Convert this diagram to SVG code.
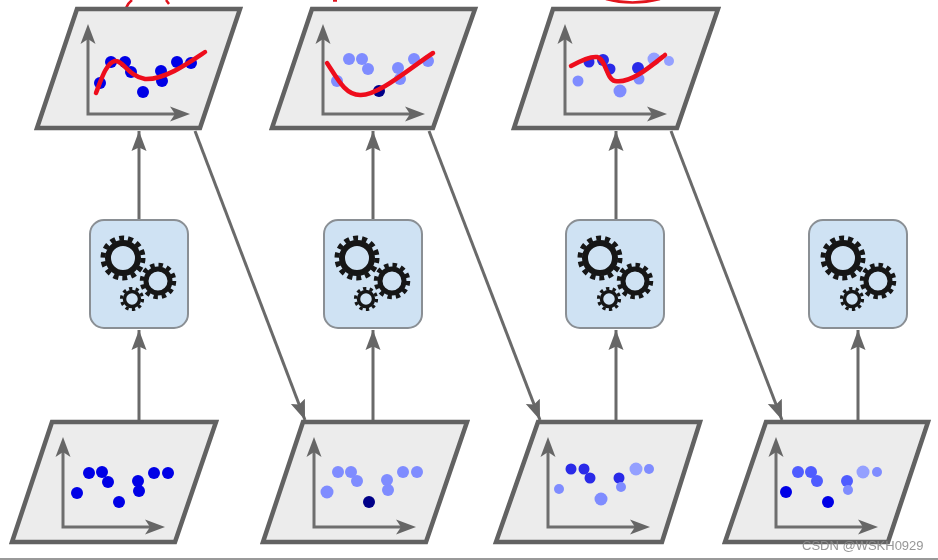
<svg xmlns="http://www.w3.org/2000/svg" xmlns:xlink="http://www.w3.org/1999/xlink" width="938" height="560" viewBox="0 0 938 560">
<style>
.panel{fill:#ececec;stroke:#626262;stroke-width:4.5;stroke-linejoin:miter}
.ax{fill:none;stroke:#6e6e6e;stroke-width:3}
.axh{fill:#666}
.box{fill:#cfe2f3;stroke:#8a8f94;stroke-width:2}
.con{fill:none;stroke:#6a6a6a;stroke-width:3;marker-end:url(#arr)}
.fit{fill:none;stroke:#ee0d1c;stroke-width:4.5;stroke-linecap:round;stroke-linejoin:round}
.note{fill:none;stroke:#e2121f;stroke-width:2.5}
.a{fill:#0000e6}.b{fill:#7f8cff}.c{fill:#000088}.d{fill:#2a2ae8}.e{fill:#4f5cff}.f{fill:#94a0ff}
.wm{font-family:"Liberation Sans",Arial,sans-serif;font-size:13px;fill:#8c8c8c;fill-opacity:.9}
</style>
<defs>
<filter id="soft" x="-2%" y="-2%" width="104%" height="104%"><feGaussianBlur stdDeviation="0.65"/></filter>
<marker id="arr" markerUnits="userSpaceOnUse" markerWidth="22" markerHeight="18" refX="20" refY="9" orient="auto"><path d="M0 1.5 L20 9 L0 16.5 L3.5 9Z" fill="#666"/></marker>
<g id="axes">
<path class="ax" d="M0 -84 V0 H92"/>
<path class="axh" d="M0 -90 L7.5 -70 L0 -75 L-7.5 -70Z"/>
<path class="axh" d="M102 0 L82 -7.5 L87 0 L82 7.5Z"/>
</g>
<g id="gears">
<circle cx="0" cy="0" r="15" fill="none" stroke="#161616" stroke-width="6"/>
<circle cx="0" cy="0" r="20" fill="none" stroke="#161616" stroke-width="5" stroke-dasharray="5 3.976"/>
<circle cx="35" cy="23" r="12" fill="none" stroke="#161616" stroke-width="5"/>
<circle cx="35" cy="23" r="16" fill="none" stroke="#161616" stroke-width="4.5" stroke-dasharray="4.4 3.98"/>
<circle cx="9" cy="41" r="7.5" fill="none" stroke="#161616" stroke-width="3.5"/>
<circle cx="9" cy="41" r="10.5" fill="none" stroke="#161616" stroke-width="3.2" stroke-dasharray="3.3 3.3"/>
</g>
</defs>
<rect width="938" height="560" fill="#fff"/>
<g filter="url(#soft)">
<g id="connectors">
<path class="con" d="M139 219V131"/>
<path class="con" d="M373 219V131"/>
<path class="con" d="M616 219V131"/>
<path class="con" d="M139 420V330"/>
<path class="con" d="M373 420V330"/>
<path class="con" d="M616 420V330"/>
<path class="con" d="M858 420V330"/>
<path class="con" d="M195 131L305 420"/>
<path class="con" d="M429 131L540 420"/>
<path class="con" d="M671 131L782 420"/>
</g>
<g id="annotations">
<path class="note" d="M126 8Q128 3 132 0"/>
<path class="note" d="M166 0L169 4"/>
<path class="note" d="M333 0.5H337"/>
<path class="note" d="M606 -1Q632 6 660 -1" stroke-width="3"/>
</g>
<g id="top-1">
<path class="panel" d="M77 9H240L200 128H37Z"/>
<use xlink:href="#axes" href="#axes" x="88" y="114"/>
<g class="a"><circle cx="100" cy="83" r="6"/><circle cx="111" cy="62" r="6"/><circle cx="125" cy="62" r="6"/><circle cx="131" cy="72" r="6"/><circle cx="143" cy="92" r="6"/><circle cx="161" cy="71" r="6"/><circle cx="162" cy="81" r="6"/><circle cx="177" cy="62" r="6"/><circle cx="191" cy="63" r="6"/></g>
<path class="fit" d="M96 93C101 80 106 63 115 61C123 60 128 76 145 79C165 80 190 62 205 52"/>
</g>
<g id="top-2">
<path class="panel" d="M312 9H475L433 128H272Z"/>
<use xlink:href="#axes" href="#axes" x="323" y="114"/>
<g class="b"><circle cx="337" cy="81" r="6"/><circle cx="349" cy="59" r="6"/><circle cx="362" cy="59" r="6"/><circle cx="368" cy="69" r="6"/><circle cx="398" cy="68" r="6"/><circle cx="400" cy="79" r="6"/><circle cx="414" cy="59" r="6"/><circle cx="428" cy="61" r="6"/></g>
<circle class="c" cx="379" cy="91" r="6"/>
<path class="fit" d="M327 63C337 78 345 95 360 95C378 96 410 68 433 53"/>
</g>
<g id="top-3">
<path class="panel" d="M553 9H718L677 128H514Z"/>
<use xlink:href="#axes" href="#axes" x="565" y="114"/>
<circle class="b" cx="578" cy="81" r="5.5"/><circle class="d" cx="589" cy="62" r="5.5"/><circle class="d" cx="603" cy="60" r="6"/><circle class="d" cx="610" cy="69" r="5.5"/><circle class="b" cx="620" cy="91" r="6.5"/><circle class="d" cx="638" cy="68" r="6"/><circle class="b" cx="639" cy="79" r="5.5"/><circle class="f" cx="654" cy="59" r="6.5"/><circle class="f" cx="669" cy="61" r="5"/>
<path class="fit" d="M571 66C580 61 590 56 597 57C606 59 606 79 615 81C630 84 650 67 665 55"/>
</g>
<g id="model-1"><rect class="box" x="90" y="220" width="98" height="108" rx="14"/><use xlink:href="#gears" href="#gears" x="123" y="258"/></g>
<g id="model-2"><rect class="box" x="324" y="220" width="98" height="108" rx="14"/><use xlink:href="#gears" href="#gears" x="357" y="258"/></g>
<g id="model-3"><rect class="box" x="566" y="220" width="98" height="108" rx="14"/><use xlink:href="#gears" href="#gears" x="600" y="258"/></g>
<g id="model-4"><rect class="box" x="809" y="220" width="98" height="108" rx="14"/><use xlink:href="#gears" href="#gears" x="843" y="258"/></g>
<g id="data-1">
<path class="panel" d="M52 422H216L175 542H12Z"/>
<use xlink:href="#axes" href="#axes" x="63" y="527"/>
<g class="a"><circle cx="77" cy="493" r="6"/><circle cx="89" cy="473" r="6"/><circle cx="102" cy="472" r="6"/><circle cx="108" cy="482" r="6"/><circle cx="119" cy="502" r="6"/><circle cx="138" cy="481" r="6"/><circle cx="139" cy="491" r="6"/><circle cx="154" cy="473" r="6"/><circle cx="168" cy="473" r="6"/></g>
</g>
<g id="data-2">
<path class="panel" d="M303 422H467L426 542H263Z"/>
<use xlink:href="#axes" href="#axes" x="314" y="527"/>
<g class="b"><circle cx="327" cy="492" r="6.5"/><circle cx="338" cy="472" r="6"/><circle cx="351" cy="472" r="6"/><circle cx="357" cy="481" r="6"/><circle cx="387" cy="480" r="6"/><circle cx="388" cy="490" r="6"/><circle cx="403" cy="472" r="6"/><circle cx="417" cy="472" r="6"/></g>
<circle class="c" cx="369" cy="502" r="6"/>
</g>
<g id="data-3">
<path class="panel" d="M538 422H700L662 542H496Z"/>
<use xlink:href="#axes" href="#axes" x="548" y="527"/>
<circle class="b" cx="559" cy="489" r="5"/><circle class="d" cx="571" cy="469" r="5.5"/><circle class="d" cx="584" cy="469" r="5.5"/><circle class="d" cx="590" cy="478" r="5.5"/><circle class="b" cx="601" cy="499" r="6.5"/><circle class="d" cx="619" cy="478" r="5.5"/><circle class="b" cx="621" cy="487" r="5"/><circle class="f" cx="636" cy="469" r="6.5"/><circle class="b" cx="649" cy="469" r="5"/>
</g>
<g id="data-4">
<path class="panel" d="M766 422H928L888 542H725Z"/>
<use xlink:href="#axes" href="#axes" x="776" y="527"/>
<circle class="a" cx="786" cy="492" r="6"/><circle class="e" cx="798" cy="472" r="6"/><circle class="e" cx="811" cy="472" r="6"/><circle class="e" cx="817" cy="481" r="6"/><circle class="a" cx="828" cy="502" r="6"/><circle class="e" cx="847" cy="481" r="6"/><circle class="b" cx="848" cy="490" r="5"/><circle class="f" cx="863" cy="472" r="6.5"/><circle class="b" cx="877" cy="472" r="5"/>
</g>
<path d="M0 559H938" stroke="#999" stroke-width="2"/>
</g>
<text class="wm" x="802" y="550">CSDN @WSKH0929</text>
</svg>
